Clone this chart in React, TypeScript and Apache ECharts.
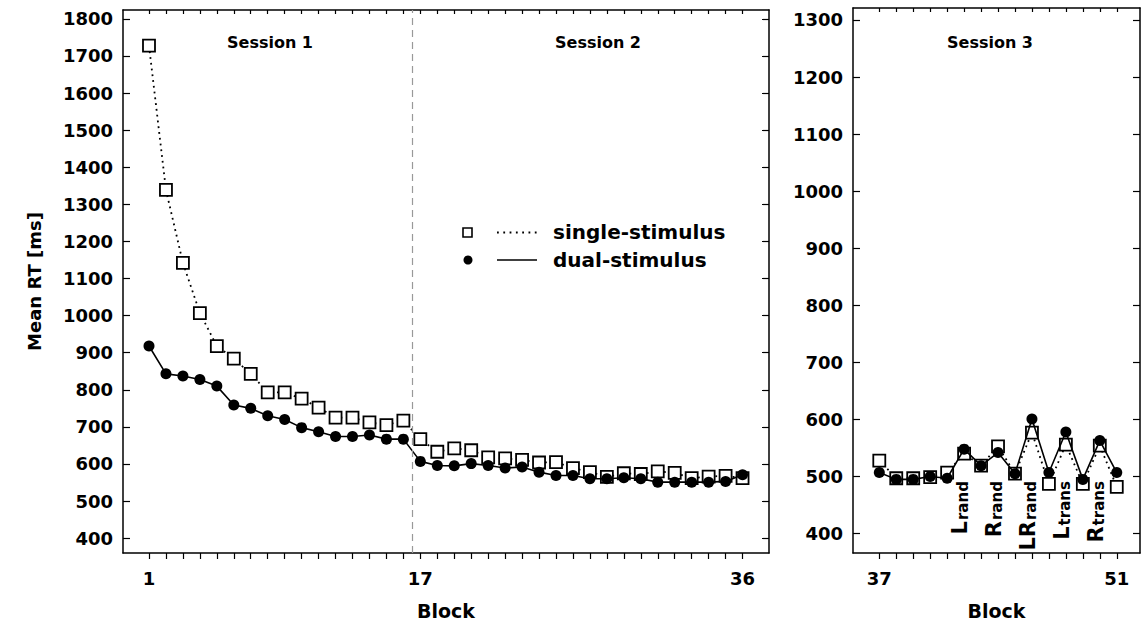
import React, { useEffect, useRef } from "react";
import * as echarts from "echarts";

const FONT = "DejaVu Sans";

// Sessions 1 & 2 (blocks 1–36)
const blocksS12 = [1, 2, 3, 4, 5, 6, 7, 8, 9, 10, 11, 12, 13, 14, 15, 16, 17, 18, 19, 20, 21, 22, 23, 24, 25, 26, 27, 28, 29, 30, 31, 32, 33, 34, 35, 36];
const singleS12 = [1728, 1339, 1142, 1007, 918, 884, 843, 793, 793, 776, 752, 725, 725, 712, 705, 717, 667, 633, 642, 637, 618, 615, 611, 604, 605, 589, 578, 565, 575, 573, 580, 576, 562, 566, 568, 562];
const dualS12 = [918, 843, 837, 828, 810, 759, 750, 730, 720, 698, 687, 674, 674, 678, 667, 667, 607, 596, 595, 601, 596, 589, 592, 578, 569, 569, 560, 560, 563, 560, 551, 551, 551, 551, 553, 571];

// Session 3 (blocks 37–51)
const blocksS3 = [37, 38, 39, 40, 41, 42, 43, 44, 45, 46, 47, 48, 49, 50, 51];
const singleS3 = [528, 497, 497, 499, 507, 540, 519, 553, 505, 577, 487, 556, 487, 554, 482];
const dualS3 = [507, 495, 495, 500, 497, 548, 519, 542, 505, 601, 507, 578, 495, 563, 507];

// Tick labels
const xLabelsLeft = [1, 17, 36];
const xLabelsRight = [37, 51];
const yTicksLeft = [400, 500, 600, 700, 800, 900, 1000, 1100, 1200, 1300, 1400, 1500, 1600, 1700, 1800];
const yTicksRight = [400, 500, 600, 700, 800, 900, 1000, 1100, 1200, 1300];

// Session-3 annotations
const annoBlocks = [42, 44, 46, 48, 50];
const annoMain = ["L", "R", "LR", "L", "R"];
const annoSub = ["rand", "rand", "rand", "trans", "trans"];
const annoValue = 492;

const sessionBoundary = 16.5;

const zip = (xs: number[], ys: number[]) => xs.map((x, i) => [x, ys[i]]);

const labelStyle = { color: "#000", fontFamily: FONT, fontWeight: "bold" as const, fontSize: 18 };
const lineBlack = { color: "#000", width: 1.5 };
const plain = (v: number) => String(v);

function xAxes(grid: number, min: number, max: number, ticks: number[], labels: number[]) {
  return [
    {
      type: "value", gridIndex: grid, position: "bottom", min, max,
      axisLine: { show: true, onZero: false, lineStyle: lineBlack },
      axisTick: { show: true, inside: false, length: 6, customValues: ticks, lineStyle: { color: "#000", width: 1.2 } },
      axisLabel: { show: true, customValues: labels, margin: 16, formatter: plain, ...labelStyle },
      splitLine: { show: false },
      name: "Block", nameLocation: "middle", nameGap: 48,
      nameTextStyle: { ...labelStyle, fontSize: 19 },
    },
    {
      type: "value", gridIndex: grid, position: "top", min, max,
      axisLine: { show: true, onZero: false, lineStyle: lineBlack },
      axisTick: { show: true, inside: true, length: 4, customValues: ticks, lineStyle: { color: "#000", width: 1.2 } },
      axisLabel: { show: false },
      splitLine: { show: false },
    },
  ];
}

function yAxes(grid: number, min: number, max: number, ticks: number[], withName: boolean) {
  return [
    {
      type: "value", gridIndex: grid, position: "left", min, max,
      axisLine: { show: true, onZero: false, lineStyle: lineBlack },
      axisTick: { show: true, inside: true, length: 7, customValues: ticks, lineStyle: { color: "#000", width: 1.2 } },
      axisLabel: { show: true, customValues: ticks, margin: 10, formatter: plain, ...labelStyle },
      splitLine: { show: false },
      ...(withName
        ? { name: "Mean RT [ms]", nameLocation: "middle", nameGap: 80, nameRotate: 90, nameTextStyle: { ...labelStyle, fontSize: 18 } }
        : {}),
    },
    {
      type: "value", gridIndex: grid, position: "right", min, max,
      axisLine: { show: true, onZero: false, lineStyle: lineBlack },
      axisTick: { show: true, inside: true, length: 7, customValues: ticks, lineStyle: { color: "#000", width: 1.2 } },
      axisLabel: { show: false },
      splitLine: { show: false },
    },
  ];
}

function singleSeries(name: string, xi: number, data: number[][], extra: any = {}) {
  return {
    name, type: "line", xAxisIndex: xi, yAxisIndex: xi, data,
    symbol: "rect", symbolSize: 12,
    lineStyle: { color: "#000", width: 1.8, type: [1.8, 4] },
    itemStyle: { color: "#fff", borderColor: "#000", borderWidth: 1.8 },
    z: 2,
    ...extra,
  };
}

function dualSeries(name: string, xi: number, data: number[][]) {
  return {
    name, type: "line", xAxisIndex: xi, yAxisIndex: xi, data,
    symbol: "circle", symbolSize: 11,
    lineStyle: { color: "#000", width: 1.6, type: "solid" },
    itemStyle: { color: "#000", borderColor: "#000", borderWidth: 0 },
    z: 3,
  };
}

export default function App() {
  const ref = useRef<HTMLDivElement>(null);

  useEffect(() => {
    if (!ref.current) return;
    const chart = echarts.init(ref.current, undefined, { renderer: "svg" });

    const option: any = {
      animation: false,
      backgroundColor: "#fff",
      grid: [
        { left: 123, top: 10, width: 646, height: 543 },
        { left: 853, top: 8, width: 287, height: 545 },
      ],
      xAxis: [
        ...xAxes(0, -0.533, 37.56, blocksS12, xLabelsLeft),
        ...xAxes(1, 35.45, 52.37, blocksS3, xLabelsRight),
      ],
      yAxis: [
        ...yAxes(0, 360, 1824, yTicksLeft, true),
        ...yAxes(1, 366, 1321, yTicksRight, false),
      ],
      series: [
        singleSeries("single-stimulus", 0, zip(blocksS12, singleS12), {
          markLine: {
            silent: true, symbol: "none", label: { show: false },
            lineStyle: { color: "#999", type: [7, 5], width: 1.2 },
            data: [{ xAxis: sessionBoundary }],
          },
        }),
        dualSeries("dual-stimulus", 0, zip(blocksS12, dualS12)),
        singleSeries("single-stimulus", 2, zip(blocksS3, singleS3)),
        dualSeries("dual-stimulus", 2, zip(blocksS3, dualS3)),
      ],
    };
    chart.setOption(option);

    const sessionText = (text: string, x: number, y: number) => ({
      type: "text", x, y,
      style: { text, fill: "#000", font: `bold 16px "${FONT}"`, align: "center", verticalAlign: "middle" },
    });

    const annos = annoBlocks.map((b, i) => {
      const [px, py] = chart.convertToPixel({ xAxisIndex: 2, yAxisIndex: 2 }, [b, annoValue]) as number[];
      return {
        type: "text", x: px - 4, y: py, rotation: Math.PI / 2,
        style: {
          text: `{b|${annoMain[i]}}{s|${annoSub[i]}}`,
          align: "right", verticalAlign: "middle",
          rich: {
            b: { fontSize: 21, fontWeight: "bold", fontFamily: FONT, fill: "#000", verticalAlign: "top", lineHeight: 21 },
            s: { fontSize: 15, fontWeight: "bold", fontFamily: FONT, fill: "#000", verticalAlign: "bottom", padding: [10, 0, 0, 1], lineHeight: 15 },
          },
        },
      };
    });

    const legendFont = `bold 20px "${FONT}"`;
    const graphic = [
      sessionText("Session 1", 270, 42),
      sessionText("Session 2", 598, 42),
      sessionText("Session 3", 990, 42),
      { type: "rect", shape: { x: 463, y: 228, width: 9, height: 9 }, style: { fill: "#fff", stroke: "#000", lineWidth: 1.6 } },
      { type: "line", shape: { x1: 497, y1: 232.5, x2: 537, y2: 232.5 }, style: { stroke: "#000", lineWidth: 1.8, lineDash: [1.8, 4.5] } },
      { type: "text", x: 553, y: 232, style: { text: "single-stimulus", font: legendFont, fill: "#000", verticalAlign: "middle" } },
      { type: "circle", shape: { cx: 468, cy: 260, r: 4.5 }, style: { fill: "#000" } },
      { type: "line", shape: { x1: 497, y1: 260, x2: 537, y2: 260 }, style: { stroke: "#000", lineWidth: 1.6 } },
      { type: "text", x: 553, y: 260, style: { text: "dual-stimulus", font: legendFont, fill: "#000", verticalAlign: "middle" } },
      ...annos,
    ];
    chart.setOption({ graphic });

    return () => chart.dispose();
  }, []);

  return <div ref={ref} style={{ position: "fixed", left: 0, top: 0, width: 1141, height: 626, background: "#fff" }} />;
}
